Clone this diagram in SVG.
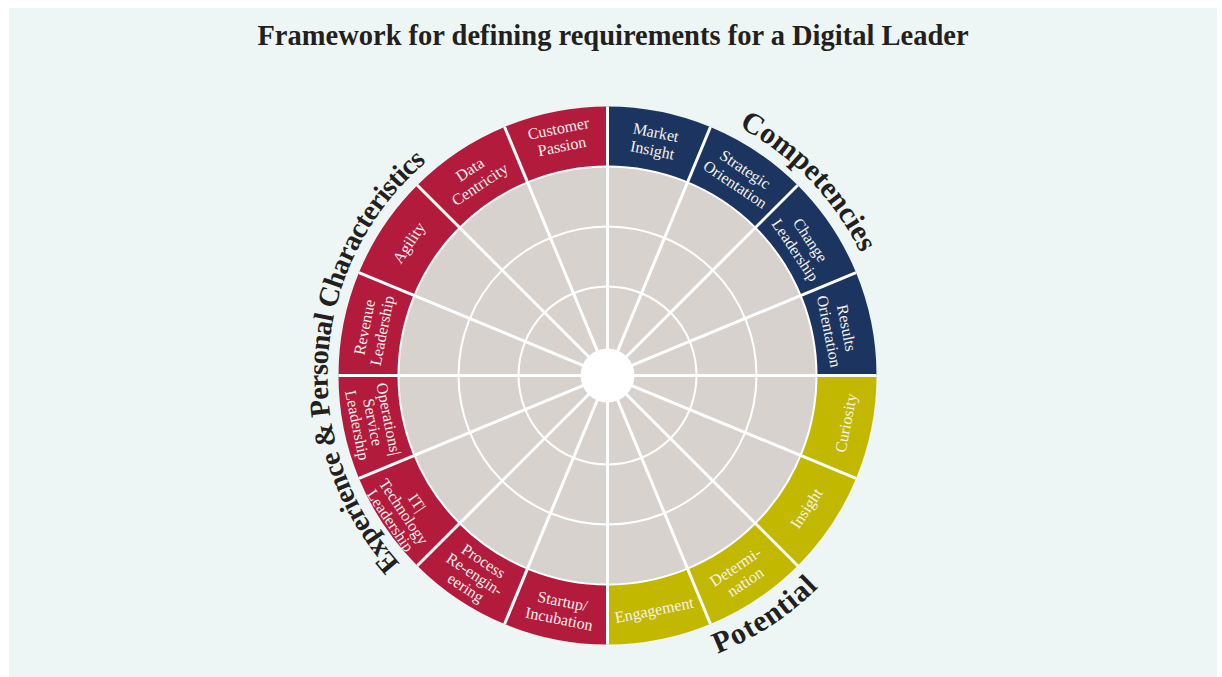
<svg xmlns="http://www.w3.org/2000/svg" width="1222" height="677" viewBox="0 0 1222 677">
  <style>
    .bg{fill:#edf6f4}
    .title{font-family:"Liberation Serif",serif;font-weight:bold;font-size:28.5px;fill:#231f20}
    .navy{fill:#1c3560}
    .red{fill:#b31b3d}
    .olive{fill:#c2b800}
    .lbl{font-family:"Liberation Serif",serif;font-size:16px;fill:#f7f2ed;text-anchor:middle}
    .arc-title{font-family:"Liberation Serif",serif;font-weight:bold;font-size:30px;fill:#231f20}
    .plate{fill:#d7d2ce}
    .ring{fill:none;stroke:#ffffff;stroke-width:2}
    .spoke{stroke:#ffffff;stroke-width:3}
    .hub{fill:#ffffff}
  </style>
  <defs>
    <!-- baseline arcs for the three group headings -->
    <path id="arc-competencies" d="M539.52,102.85 A281,281 0 0 1 877.62,452.95"/>
    <path id="arc-potential" d="M473.16,642.63 A299,299 0 0 0 906.0,358.29"/>
    <path id="arc-experience" d="M452.16,608.46 A280,280 0 0 1 483.43,124.48"/>
  </defs>

  <rect class="bg" x="9" y="8" width="1208" height="669"/>

  <text class="title" x="613" y="45" text-anchor="middle">Framework for defining requirements for a Digital Leader</text>

  <!-- outer band segments, clockwise from twelve o'clock -->
  <g id="seg-market-insight">
    <path class="navy" d="M607.5,106.5 A269,269 0 0 1 710.442,126.976 L687.481,182.409 A209,209 0 0 0 607.5,166.5 Z"/>
    <g transform="translate(654.13,141.09) rotate(11.25)"><text class="lbl"><tspan x="0" y="-3.5">Market</tspan><tspan x="0" y="14.5">Insight</tspan></text></g>
  </g>
  <g id="seg-strategic-orientation">
    <path class="navy" d="M710.442,126.976 A269,269 0 0 1 797.712,185.288 L755.285,227.715 A209,209 0 0 0 687.481,182.409 Z"/>
    <g transform="translate(740.28,176.78) rotate(33.75)"><text class="lbl"><tspan x="0" y="-3.5">Strategic</tspan><tspan x="0" y="14.5">Orientation</tspan></text></g>
  </g>
  <g id="seg-change-leadership">
    <path class="navy" d="M797.712,185.288 A269,269 0 0 1 856.024,272.558 L800.591,295.519 A209,209 0 0 0 755.285,227.715 Z"/>
    <g transform="translate(802.9,244.94) rotate(56.25)"><text class="lbl"><tspan x="0" y="-3.5">Change</tspan><tspan x="0" y="14.5">Leadership</tspan></text></g>
  </g>
  <g id="seg-results-orientation">
    <path class="navy" d="M856.024,272.558 A269,269 0 0 1 876.5,375.5 L816.5,375.5 A209,209 0 0 0 800.591,295.519 Z"/>
    <g transform="translate(837.98,329.65) rotate(78.75)"><text class="lbl"><tspan x="0" y="-3.5">Results</tspan><tspan x="0" y="14.5">Orientation</tspan></text></g>
  </g>
  <g id="seg-curiosity">
    <path class="olive" d="M876.5,375.5 A269,269 0 0 1 856.024,478.442 L800.591,455.481 A209,209 0 0 0 816.5,375.5 Z"/>
    <g transform="translate(845.83,422.91) rotate(-78.75)"><text class="lbl" y="5.5">Curiosity</text></g>
  </g>
  <g id="seg-insight">
    <path class="olive" d="M856.024,478.442 A269,269 0 0 1 797.712,565.712 L755.285,523.285 A209,209 0 0 0 800.591,455.481 Z"/>
    <g transform="translate(806.22,508.28) rotate(-56.25)"><text class="lbl" y="5.5">Insight</text></g>
  </g>
  <g id="seg-determination">
    <path class="olive" d="M797.712,565.712 A269,269 0 0 1 710.442,624.024 L687.481,568.591 A209,209 0 0 0 755.285,523.285 Z"/>
    <g transform="translate(740.28,574.22) rotate(-33.75)"><text class="lbl"><tspan x="0" y="-3.5">Determi-</tspan><tspan x="0" y="14.5">nation</tspan></text></g>
  </g>
  <g id="seg-engagement">
    <path class="olive" d="M710.442,624.024 A269,269 0 0 1 607.5,644.5 L607.5,584.5 A209,209 0 0 0 687.481,568.591 Z"/>
    <g transform="translate(654.13,609.91) rotate(-11.25)"><text class="lbl" y="5.5">Engagement</text></g>
  </g>
  <g id="seg-startup-incubation">
    <path class="red" d="M607.5,644.5 A269,269 0 0 1 504.558,624.024 L527.519,568.591 A209,209 0 0 0 607.5,584.5 Z"/>
    <g transform="translate(560.87,609.91) rotate(11.25)"><text class="lbl"><tspan x="0" y="-3.5">Startup/</tspan><tspan x="0" y="14.5">Incubation</tspan></text></g>
  </g>
  <g id="seg-process-reengineering">
    <path class="red" d="M504.558,624.024 A269,269 0 0 1 417.288,565.712 L459.715,523.285 A209,209 0 0 0 527.519,568.591 Z"/>
    <g transform="translate(474.72,574.22) rotate(33.75)"><text class="lbl"><tspan x="0" y="-10.5">Process</tspan><tspan x="0" y="5.5">Re-engin-</tspan><tspan x="0" y="21.5">eering</tspan></text></g>
  </g>
  <g id="seg-it-technology-leadership">
    <path class="red" d="M417.288,565.712 A269,269 0 0 1 358.976,478.442 L414.409,455.481 A209,209 0 0 0 459.715,523.285 Z"/>
    <g transform="translate(403.79,511.61) rotate(56.25)"><text class="lbl"><tspan x="0" y="-10.5">IT|</tspan><tspan x="0" y="5.5">Technology</tspan><tspan x="0" y="21.5">Leadership</tspan></text></g>
  </g>
  <g id="seg-operations-service-leadership">
    <path class="red" d="M358.976,478.442 A269,269 0 0 1 338.5,375.5 L398.5,375.5 A209,209 0 0 0 414.409,455.481 Z"/>
    <g transform="translate(373.09,422.13) rotate(78.75)"><text class="lbl"><tspan x="0" y="-10.5">Operations|</tspan><tspan x="0" y="5.5">Service</tspan><tspan x="0" y="21.5">Leadership</tspan></text></g>
  </g>
  <g id="seg-revenue-leadership">
    <path class="red" d="M338.5,375.5 A269,269 0 0 1 358.976,272.558 L414.409,295.519 A209,209 0 0 0 398.5,375.5 Z"/>
    <g transform="translate(373.09,328.87) rotate(-78.75)"><text class="lbl"><tspan x="0" y="-3.5">Revenue</tspan><tspan x="0" y="14.5">Leadership</tspan></text></g>
  </g>
  <g id="seg-agility">
    <path class="red" d="M358.976,272.558 A269,269 0 0 1 417.288,185.288 L459.715,227.715 A209,209 0 0 0 414.409,295.519 Z"/>
    <g transform="translate(408.78,242.72) rotate(-56.25)"><text class="lbl" y="5.5">Agility</text></g>
  </g>
  <g id="seg-data-centricity">
    <path class="red" d="M417.288,185.288 A269,269 0 0 1 504.558,126.976 L527.519,182.409 A209,209 0 0 0 459.715,227.715 Z"/>
    <g transform="translate(474.72,176.78) rotate(-33.75)"><text class="lbl"><tspan x="0" y="-3.5">Data</tspan><tspan x="0" y="14.5">Centricity</tspan></text></g>
  </g>
  <g id="seg-customer-passion">
    <path class="red" d="M504.558,126.976 A269,269 0 0 1 607.5,106.5 L607.5,166.5 A209,209 0 0 0 527.519,182.409 Z"/>
    <g transform="translate(560.09,137.17) rotate(-11.25)"><text class="lbl"><tspan x="0" y="-3.5">Customer</tspan><tspan x="0" y="14.5">Passion</tspan></text></g>
  </g>

  <!-- rating plate with concentric score rings -->
  <g id="plate">
    <circle class="plate" cx="607.5" cy="375.5" r="209"/>
    <circle class="ring" cx="607.5" cy="375.5" r="209"/>
    <circle class="ring" cx="607.5" cy="375.5" r="149"/>
    <circle class="ring" cx="607.5" cy="375.5" r="89"/>
  </g>

  <!-- spokes dividing the sixteen segments -->
  <g id="spokes">
    <line class="spoke" x1="607.5" y1="106.5" x2="607.5" y2="644.5"/>
    <line class="spoke" x1="710.442" y1="126.976" x2="504.558" y2="624.024"/>
    <line class="spoke" x1="797.712" y1="185.288" x2="417.288" y2="565.712"/>
    <line class="spoke" x1="856.024" y1="272.558" x2="358.976" y2="478.442"/>
    <line class="spoke" x1="876.5" y1="375.5" x2="338.5" y2="375.5"/>
    <line class="spoke" x1="856.024" y1="478.442" x2="358.976" y2="272.558"/>
    <line class="spoke" x1="797.712" y1="565.712" x2="417.288" y2="185.288"/>
    <line class="spoke" x1="710.442" y1="624.024" x2="504.558" y2="126.976"/>
  </g>

  <g id="hub">
    <circle class="hub" cx="607.5" cy="375.5" r="27"/>
  </g>

  <!-- group headings around the rim -->
  <g id="heading-competencies">
    <text class="arc-title"><textPath href="#arc-competencies" startOffset="50%" text-anchor="middle">Competencies</textPath></text>
  </g>
  <g id="heading-potential">
    <text class="arc-title" letter-spacing="0.8"><textPath href="#arc-potential" startOffset="50%" text-anchor="middle">Potential</textPath></text>
  </g>
  <g id="heading-experience">
    <text class="arc-title" style="font-size:28.5px" letter-spacing="-0.65"><textPath href="#arc-experience" startOffset="50%" text-anchor="middle">Experience &amp; Personal Characteristics</textPath></text>
  </g>
</svg>
